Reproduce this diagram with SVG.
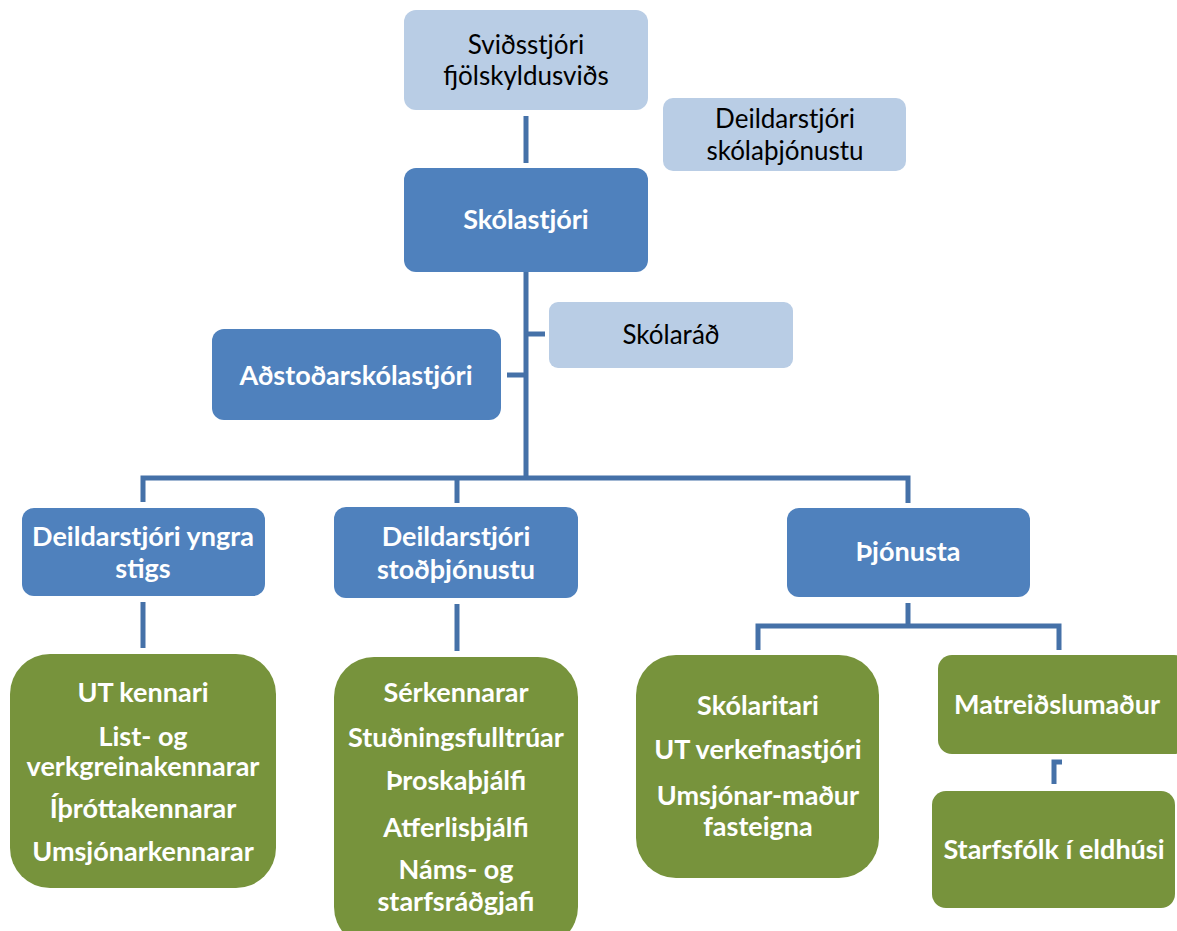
<svg xmlns="http://www.w3.org/2000/svg" width="1177" height="931" viewBox="0 0 1177 931">
<style>
.lb{fill:#B9CDE5}
.mb{fill:#4F81BD}
.gr{fill:#77933C}
.t{font-family:Lato,"Open Sans",sans-serif;font-size:26px;fill:#000;text-anchor:middle}
.w{font-family:Lato,"Open Sans",sans-serif;font-size:27px;font-weight:bold;fill:#fff;text-anchor:middle}
.c{fill:none;stroke:#4571A8;stroke-width:5}
</style>
<rect width="1177" height="931" fill="#fff"/>
<g id="connectors">
<line class="c" x1="526" y1="116" x2="526" y2="163"/>
<line class="c" x1="526" y1="272" x2="526" y2="478"/>
<line class="c" x1="526" y1="334" x2="545" y2="334"/>
<line class="c" x1="507" y1="375" x2="526" y2="375"/>
<polyline class="c" points="143,502 143,478 908,478 908,503"/>
<line class="c" x1="457" y1="478" x2="457" y2="503"/>
<line class="c" x1="143" y1="602" x2="143" y2="648"/>
<line class="c" x1="457" y1="604" x2="457" y2="651"/>
<line class="c" x1="908" y1="603" x2="908" y2="626"/>
<polyline class="c" points="758,650 758,626 1059,626 1059,650"/>
<polyline class="c" points="1054,784 1054,762 1062,762"/>
</g>
<g id="n1"><rect class="lb" x="404" y="10" width="244" height="100" rx="12"/><text class="t" x="526" y="54">Sviðsstjóri</text><text class="t" x="526" y="85">fjölskyldusviðs</text></g>
<g id="n2"><rect class="lb" x="663" y="98" width="243" height="73" rx="10"/><text class="t" x="785" y="128">Deildarstjóri</text><text class="t" x="785" y="160">skólaþjónustu</text></g>
<g id="n3"><rect class="mb" x="404" y="168" width="244" height="104" rx="12"/><text class="w" x="526" y="229">Skólastjóri</text></g>
<g id="n4"><rect class="lb" x="549" y="302" width="244" height="66" rx="9"/><text class="t" x="671" y="344">Skólaráð</text></g>
<g id="n5"><rect class="mb" x="212" y="329" width="289" height="91" rx="12"/><text class="w" x="356" y="385">Aðstoðarskólastjóri</text></g>
<g id="n6"><rect class="mb" x="22" y="508" width="243" height="88" rx="12"/><text class="w" x="143" y="546">Deildarstjóri yngra</text><text class="w" x="143" y="578">stigs</text></g>
<g id="n7"><rect class="mb" x="334" y="507" width="244" height="91" rx="12"/><text class="w" x="456" y="546">Deildarstjóri</text><text class="w" x="456" y="579">stoðþjónustu</text></g>
<g id="n8"><rect class="mb" x="787" y="508" width="243" height="89" rx="12"/><text class="w" x="908" y="561">Þjónusta</text></g>
<g id="n9"><rect class="gr" x="10" y="654" width="266" height="234" rx="40"/>
<text class="w" x="143" y="702">UT kennari</text><text class="w" x="143" y="746">List- og</text><text class="w" x="143" y="776">verkgreinakennarar</text><text class="w" x="143" y="818">Íþróttakennarar</text><text class="w" x="143" y="861">Umsjónarkennarar</text></g>
<g id="n10"><rect class="gr" x="334" y="657" width="244" height="290" rx="40"/>
<text class="w" x="456" y="702">Sérkennarar</text><text class="w" x="456" y="747">Stuðningsfulltrúar</text><text class="w" x="456" y="790">Þroskaþjálfi</text><text class="w" x="456" y="837">Atferlisþjálfi</text><text class="w" x="456" y="879">Náms- og</text><text class="w" x="456" y="911">starfsráðgjafi</text></g>
<g id="n11"><rect class="gr" x="636" y="655" width="243" height="223" rx="40"/>
<text class="w" x="758" y="715">Skólaritari</text><text class="w" x="758" y="759">UT verkefnastjóri</text><text class="w" x="758" y="805">Umsjónar-maður</text><text class="w" x="758" y="836">fasteigna</text></g>
<g id="n12"><rect class="gr" x="938" y="655" width="250" height="99" rx="14"/><text class="w" x="1057" y="714">Matreiðslumaður</text></g>
<g id="n13"><rect class="gr" x="932" y="791" width="243" height="117" rx="14"/><text class="w" x="1054" y="859">Starfsfólk í eldhúsi</text></g>
</svg>
